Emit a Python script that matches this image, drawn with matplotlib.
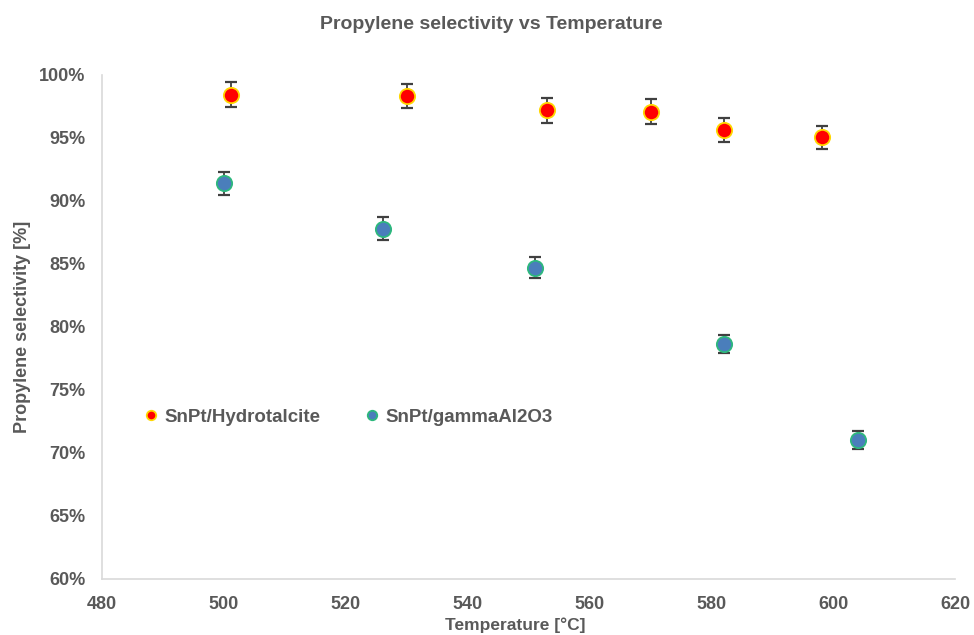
import matplotlib.pyplot as plt
from matplotlib.ticker import FuncFormatter

plt.rcParams['font.family'] = ['Liberation Sans', 'DejaVu Sans']
plt.rcParams['font.weight'] = 'bold'

grey = '#595959'

# SnPt on hydrotalcite
temp_ht = [501.1, 530.1, 553.1, 570.1, 582.1, 598.1]
sel_ht = [98.45, 98.3, 97.2, 97.1, 95.65, 95.05]
err_ht = [1.0, 0.95, 1.0, 1.0, 0.95, 0.9]

# SnPt on gamma alumina
temp_al = [500.1, 526.1, 551.1, 582.1, 604.1]
sel_al = [91.4, 87.8, 84.7, 78.65, 71.05]
err_al = [0.9, 0.9, 0.85, 0.75, 0.7]

fig = plt.figure(figsize=(9.74, 6.35), dpi=100)
ax = fig.add_axes([0.1047, 0.0882, 0.8758, 0.7937])

ax.errorbar(temp_ht, sel_ht, yerr=err_ht, fmt='none', ecolor='#404040',
            elinewidth=1.3, capsize=4, capthick=1.6, zorder=2)
ax.errorbar(temp_al, sel_al, yerr=err_al, fmt='none', ecolor='#404040',
            elinewidth=1.3, capsize=4, capthick=1.6, zorder=2)

ax.plot(temp_ht, sel_ht, 'o', ms=11, mfc='#FF0000', mec='#FFD700', mew=1.3,
        label='SnPt/Hydrotalcite', zorder=3)
ax.plot(temp_al, sel_al, 'o', ms=11, mfc='#4A7EBB', mec='#2DB87D', mew=1.3,
        label='SnPt/gammaAl2O3', zorder=3)

ax.set_xlim(480, 620)
ax.set_ylim(60, 100)
ax.set_xticks(range(480, 621, 20))
ax.set_yticks(range(60, 101, 5))
ax.yaxis.set_major_formatter(FuncFormatter(lambda v, p: '%d%%' % v))

for s in ['top', 'right']:
    ax.spines[s].set_visible(False)
for s in ['left', 'bottom']:
    ax.spines[s].set_color('#D9D9D9')
    ax.spines[s].set_linewidth(1.2)

ax.tick_params(length=0, labelsize=13, labelcolor=grey)
ax.tick_params(axis='x', pad=12)
ax.tick_params(axis='y', pad=12)

fig.text(0.504, 0.962, 'Propylene selectivity vs Temperature', fontsize=14,
         color=grey, fontweight='bold', ha='center', va='center')
ax.set_xlabel('Temperature [°C]', fontsize=12.5, color=grey,
              fontweight='bold')
ax.xaxis.set_label_coords(0.484, -0.077)
ax.set_ylabel('Propylene selectivity [%]', fontsize=13, color=grey,
              fontweight='bold', labelpad=6)

leg = ax.legend(loc='center left', bbox_to_anchor=(0.05, 0.321), ncol=2,
                frameon=False, fontsize=13.5, markerscale=0.62,
                handlelength=0.7, handletextpad=0.35, columnspacing=2.4,
                borderaxespad=0, borderpad=0)
for t in leg.get_texts():
    t.set_color(grey)

fig.savefig('out.png', dpi=100)
